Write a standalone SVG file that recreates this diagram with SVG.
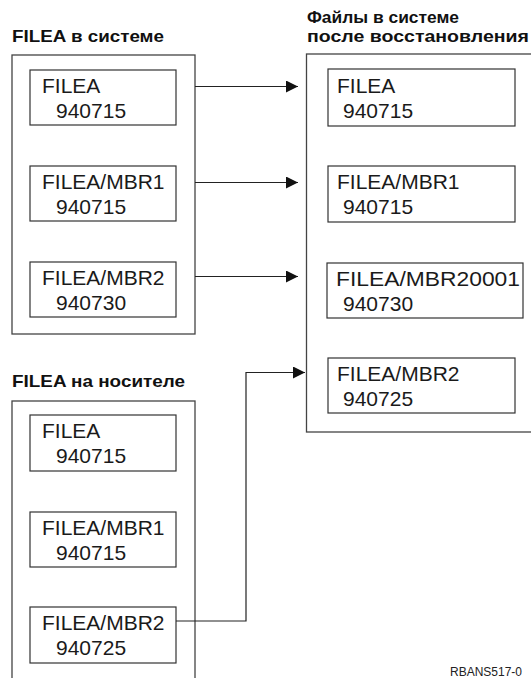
<svg xmlns="http://www.w3.org/2000/svg" width="531" height="678" viewBox="0 0 531 678">
<style>
.outer{fill:none;stroke:#444;stroke-width:1.3}
.inner{fill:#fff;stroke:#333;stroke-width:1.2}
.t{font-family:"Liberation Sans",Arial,sans-serif;font-size:21px;fill:#1a1a1a}
.h{font-family:"Liberation Sans",Arial,sans-serif;font-size:17px;font-weight:bold;fill:#111}
.c{fill:none;stroke:#222;stroke-width:1.2}
.f{font-family:"Liberation Sans",Arial,sans-serif;font-size:12px;fill:#222}
</style>
<defs>
<marker id="ah" markerUnits="userSpaceOnUse" markerWidth="13" markerHeight="12" refX="12" refY="6" orient="auto">
<path d="M0,0 L12,6 L0,12 Z" fill="#111"/>
</marker>
</defs>
<rect width="531" height="678" fill="#fff"/>

<g id="title-system">
<text class="h" x="12" y="42" textLength="152" lengthAdjust="spacingAndGlyphs">FILEA в системе</text>
</g>
<g id="title-after">
<text class="h" x="307" y="23" textLength="152" lengthAdjust="spacingAndGlyphs">Файлы в системе</text>
<text class="h" x="307" y="42" textLength="222" lengthAdjust="spacingAndGlyphs">после восстановления</text>
</g>
<g id="title-media">
<text class="h" x="12" y="387" textLength="173" lengthAdjust="spacingAndGlyphs">FILEA на носителе</text>
</g>

<g id="system">
<rect class="outer" x="12" y="55" width="183" height="279"/>
<g id="sys-filea">
<rect class="inner" x="30" y="70" width="146" height="55"/>
<text class="t" x="42" y="93">FILEA</text>
<text class="t" x="56" y="118">940715</text>
</g>
<g id="sys-mbr1">
<rect class="inner" x="30" y="166" width="146" height="55"/>
<text class="t" x="42" y="189">FILEA/MBR1</text>
<text class="t" x="56" y="214">940715</text>
</g>
<g id="sys-mbr2">
<rect class="inner" x="30" y="262" width="146" height="55"/>
<text class="t" x="42" y="285">FILEA/MBR2</text>
<text class="t" x="56" y="310">940730</text>
</g>
</g>

<g id="after">
<rect class="outer" x="306.5" y="54" width="240" height="378"/>
<g id="aft-filea">
<rect class="inner" x="328" y="69" width="187" height="57"/>
<text class="t" x="337" y="93">FILEA</text>
<text class="t" x="343" y="118">940715</text>
</g>
<g id="aft-mbr1">
<rect class="inner" x="328" y="166" width="187" height="56"/>
<text class="t" x="337" y="189">FILEA/MBR1</text>
<text class="t" x="343" y="214">940715</text>
</g>
<g id="aft-mbr20001">
<rect class="inner" x="327" y="263" width="196" height="55"/>
<text class="t" x="336" y="286" textLength="184" lengthAdjust="spacingAndGlyphs">FILEA/MBR20001</text>
<text class="t" x="343" y="311">940730</text>
</g>
<g id="aft-mbr2">
<rect class="inner" x="328" y="358" width="187" height="55"/>
<text class="t" x="337" y="381">FILEA/MBR2</text>
<text class="t" x="343" y="406">940725</text>
</g>
</g>

<g id="media">
<rect class="outer" x="12" y="401" width="183" height="290"/>
<g id="med-filea">
<rect class="inner" x="30" y="415" width="146" height="56"/>
<text class="t" x="42" y="438">FILEA</text>
<text class="t" x="56" y="463">940715</text>
</g>
<g id="med-mbr1">
<rect class="inner" x="30" y="512" width="146" height="55"/>
<text class="t" x="42" y="535">FILEA/MBR1</text>
<text class="t" x="56" y="560">940715</text>
</g>
<g id="med-mbr2">
<rect class="inner" x="30" y="607" width="146" height="56"/>
<text class="t" x="42" y="630">FILEA/MBR2</text>
<text class="t" x="56" y="655">940725</text>
</g>
</g>

<g id="connectors">
<path class="c" d="M195,86.5 H298" marker-end="url(#ah)"/>
<path class="c" d="M195,182.5 H298" marker-end="url(#ah)"/>
<path class="c" d="M195,276.5 H298" marker-end="url(#ah)"/>
<path class="c" d="M176,621 H246 V372.5 H305" marker-end="url(#ah)"/>
</g>

<text class="f" x="450" y="676">RBANS517-0</text>
</svg>
